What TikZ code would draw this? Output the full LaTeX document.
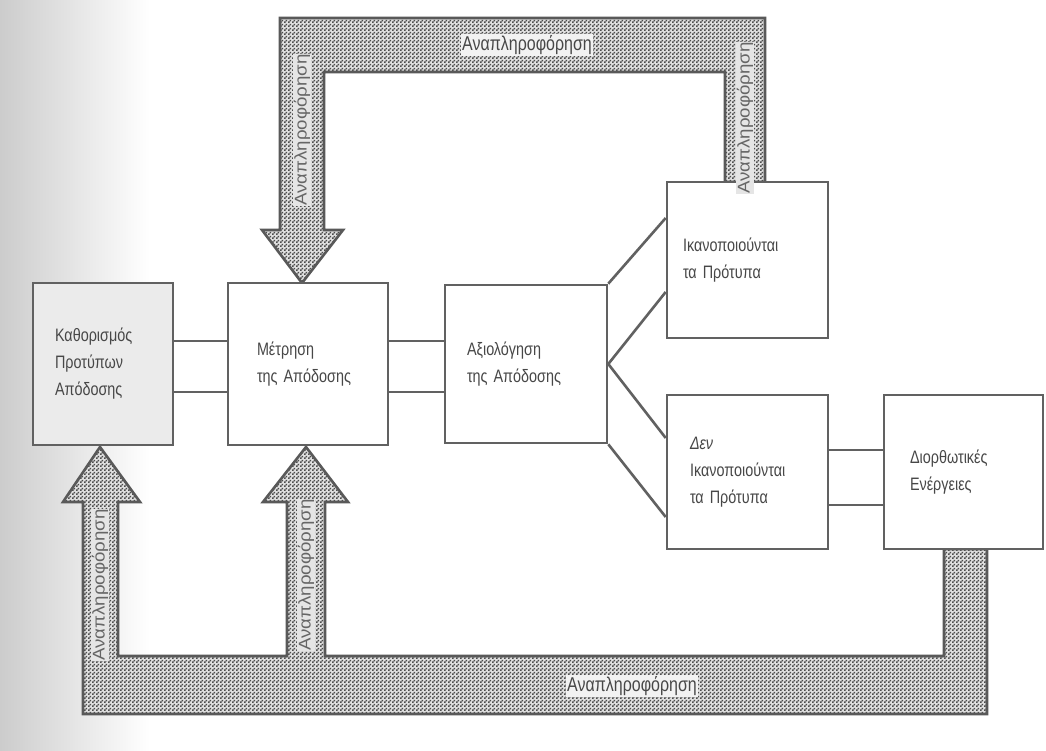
\documentclass[tikz,border=0pt]{standalone}
\usepackage{fontspec}
\setmainfont{Liberation Sans}
\newfontfamily\condf[FakeStretch=0.8]{Liberation Sans}
\newfontfamily\vertf[FakeStretch=1.1]{Liberation Sans}
\usetikzlibrary{patterns}
\pgfdeclarepatternformonly{fbdots}{\pgfpointorigin}{\pgfqpoint{4pt}{4pt}}{\pgfqpoint{4pt}{4pt}}{%
 \pgfpathrectangle{\pgfpointorigin}{\pgfqpoint{2pt}{2pt}}%
 \pgfpathrectangle{\pgfqpoint{2pt}{2pt}}{\pgfqpoint{2pt}{2pt}}%
 \pgfusepath{fill}}
\tikzset{
 box/.style={draw=black!62, line width=2.6pt, fill=white, align=left,
   font=\condf\fontsize{18}{27}\selectfont, text=black!72, inner sep=0pt},
 conn/.style={draw=black!62, line width=2.6pt},
 band/.style={draw=black!65, line width=2.6pt, line join=miter,
   preaction={fill=black!12}, pattern=fbdots, pattern color=black!70},
 bandlbl/.style={fill=black!5, inner sep=1.5pt, text=black!72,
   font=\condf\fontsize{20}{20}\selectfont},
 vlbl/.style={fill=black!10, inner sep=0.5pt, text=black!60, rotate=90,
   font=\vertf\fontsize{17}{17}\selectfont},
}
\begin{document}
\begin{tikzpicture}[x=1pt,y=1pt]
\useasboundingbox (0,0) rectangle (1046,751);
\fill[white] (0,0) rectangle (1046,751);
\shade[left color=black!20, right color=white] (0,0) rectangle (150,751);

% feedback bands
\draw[band] (725,569) -- (725,679) -- (324,679) -- (324,521) -- (343,521) -- (302,468)
  -- (262,521) -- (280,521) -- (280,733) -- (765,733) -- (765,569) -- cycle;
\draw[band] (944,202) -- (944,95) -- (325,95) -- (325,249) -- (348,249) -- (306,304)
  -- (263,249) -- (287,249) -- (287,95) -- (118,95) -- (118,249) -- (140,249)
  -- (100,304) -- (63,249) -- (83,249) -- (83,37) -- (987,37) -- (987,202) -- cycle;

% boxes
\node[box, fill=black!8, minimum width=140pt, minimum height=162pt, text width=96pt] (b1) at (103,387) {Καθορισμός\\Προτύπων\\Απόδοσης};
\node[box, minimum width=160pt, minimum height=162pt, text width=102pt] (b2) at (308,387) {Μέτρηση\\της Απόδοσης};
\node[box, minimum width=162pt, minimum height=158pt, text width=118pt] (b3) at (526,387) {Αξιολόγηση\\της Απόδοσης};
\node[box, minimum width=161pt, minimum height=156pt, text width=129pt] (b4) at (747.5,491) {Ικανοποιούνται\\τα Πρότυπα};
\node[box, minimum width=161pt, minimum height=154pt, text width=115pt] (b5) at (747.5,279) {\textit{Δεν}\\Ικανοποιούνται\\τα Πρότυπα};
\node[box, minimum width=159pt, minimum height=154pt, text width=107pt] (b6) at (963.5,279) {Διορθωτικές\\Ενέργειες};

% connectors
\draw[conn] ([yshift=23pt]b1.east) -- ([yshift=23pt]b2.west);
\draw[conn] ([yshift=-28pt]b1.east) -- ([yshift=-28pt]b2.west);
\draw[conn] ([yshift=23pt]b2.east) -- ([yshift=23pt]b3.west);
\draw[conn] ([yshift=-28pt]b2.east) -- ([yshift=-28pt]b3.west);
\draw[conn] ([yshift=22pt]b5.east) -- ([yshift=22pt]b6.west);
\draw[conn] ([yshift=-33pt]b5.east) -- ([yshift=-33pt]b6.west);
\draw[conn] (b3.north east) -- ([yshift=42pt]b4.west);
\draw[conn] (b3.east) -- ([yshift=-32pt]b4.west);
\draw[conn] (b3.east) -- ([yshift=34pt]b5.west);
\draw[conn] (b3.south east) -- ([yshift=-45pt]b5.west);

% band labels
\node[bandlbl] (t1) at (527,706) {Αναπληροφόρηση};
\node[bandlbl] (t2) at (632,65) {Αναπληροφόρηση};
\node[vlbl] (v1) at (302,621) {Αναπληροφόρηση};
\node[vlbl] (v2) at (745,633) {Αναπληροφόρηση};
\node[vlbl] (v3) at (100,166) {Αναπληροφόρηση};
\node[vlbl] (v4) at (306,176) {Αναπληροφόρηση};
\end{tikzpicture}
\end{document}
